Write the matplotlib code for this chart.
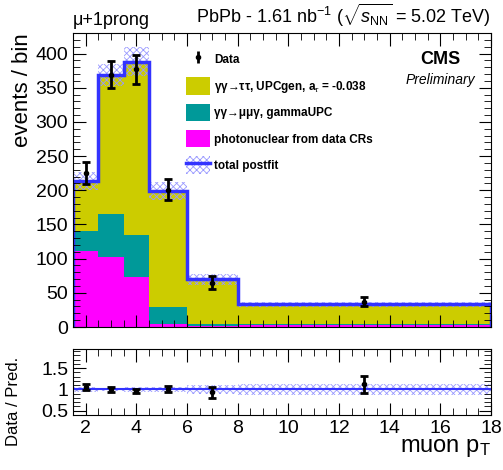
import numpy as np
import matplotlib
matplotlib.use("Agg")
import matplotlib.pyplot as plt
from matplotlib.patches import Patch
from matplotlib.lines import Line2D
from matplotlib.ticker import MultipleLocator, FormatStrFormatter

plt.rcParams['font.family'] = ['Liberation Sans', 'DejaVu Sans']
plt.rcParams['mathtext.fontset'] = 'custom'
plt.rcParams['mathtext.rm'] = 'Liberation Sans'
plt.rcParams['mathtext.it'] = 'Liberation Sans:italic'
plt.rcParams['hatch.linewidth'] = 0.6

# bin edges in muon pT
edges = np.array([1.5, 2.5, 3.5, 4.5, 6.0, 8.0, 18.0])
x_data = [2.0, 3.0, 4.0, 5.25, 7.0, 13.0]

# stacked components (events / bin)
photonuclear = np.array([111, 102, 73, 5, 2, 3])
mumugamma = np.array([29, 63, 62, 24, 3, 1])
tautau = np.array([73, 203, 253, 170, 65, 29])
total_unc = np.array([13, 16, 21, 13, 8, 4])

# data
data = np.array([225, 369, 377, 201, 65, 37])
data_err = np.array([16, 20, 21, 15, 9, 7])

# ratio data / pred
ratio = [1.05, 1.00, 0.97, 1.01, 0.93, 1.12]
ratio_err = [0.07, 0.05, 0.05, 0.07, 0.12, 0.2]

total = photonuclear + mumugamma + tautau

c_tau = '#cccc00'
c_mmg = '#009999'
c_pn = '#ff00ff'
c_tot = '#3333ff'
c_hatch = '#9999ff'

fig = plt.figure(figsize=(5.03, 4.70), dpi=100)
ax = fig.add_axes([73/503, 1 - 327/470, 418/503, 294/470])
axr = fig.add_axes([73/503, 1 - 415/470, 418/503, 66/470])

# 1. main panel stack
ax.stairs(photonuclear, edges, fill=True, color=c_pn, lw=0)
ax.stairs(photonuclear + mumugamma, edges, baseline=photonuclear, fill=True, color=c_mmg, lw=0)
ax.stairs(total, edges, baseline=photonuclear + mumugamma, fill=True, color=c_tau, lw=0)
ax.stairs(total + total_unc, edges, baseline=total - total_unc, fill=True,
          facecolor='none', edgecolor=c_hatch, hatch='xxxxx', lw=0)
ax.stairs(total, edges, color=c_tot, lw=2.5)
ax.errorbar(x_data, data, yerr=data_err, fmt='o', color='black', ms=3,
            elinewidth=2, capsize=3, capthick=2)

ax.set_xlim(1.5, 18)
ax.set_ylim(0, 430)
ax.set_ylabel('events / bin', fontsize=16, loc='top', labelpad=2)
ax.yaxis.set_major_locator(MultipleLocator(50))
ax.yaxis.set_minor_locator(MultipleLocator(10))
ax.xaxis.set_major_locator(MultipleLocator(2))
ax.xaxis.set_minor_locator(MultipleLocator(0.5))
ax.tick_params(axis='both', which='both', direction='in', top=True, right=True)
ax.tick_params(which='major', length=9, labelsize=14)
ax.tick_params(which='minor', length=5)
ax.tick_params(axis='x', labelbottom=False)

ax.text(0.0, 1.015, 'μ+1prong', transform=ax.transAxes, fontsize=13, ha='left', va='bottom')
ax.text(1.0, 1.015, r'PbPb - 1.61 nb$^{-1}$ ($\sqrt{s_{\mathrm{NN}}}$ = 5.02 TeV)',
        transform=ax.transAxes, fontsize=13, ha='right', va='bottom')
ax.text(0.88, 0.91, 'CMS', transform=ax.transAxes, fontsize=13, fontweight='bold', ha='center', va='center')
ax.text(0.88, 0.84, 'Preliminary', transform=ax.transAxes, fontsize=10, style='italic', ha='center', va='center')

h_data = ax.errorbar([], [], yerr=[], fmt='o', color='black', ms=3, elinewidth=2, capsize=3, capthick=2)
h_tau = Patch(facecolor=c_tau, edgecolor='none')
h_mmg = Patch(facecolor=c_mmg, edgecolor='none')
h_pn = Patch(facecolor=c_pn, edgecolor='none')
h_tot = (Patch(facecolor='none', edgecolor=c_hatch, hatch='xxxxx', lw=0), Line2D([], [], color=c_tot, lw=2.5))
leg = ax.legend([h_data, h_tau, h_mmg, h_pn, h_tot],
                ['Data', r'γγ→ττ, UPCgen, a$_{\tau}$ = -0.038',
                 'γγ→μμγ, gammaUPC',
                 'photonuclear from data CRs', 'total postfit'],
                loc='upper left', bbox_to_anchor=(0.245, 0.975), frameon=False,
                prop={'weight': 'bold', 'size': 8.5}, handlelength=2.0, handleheight=1.9,
                labelspacing=0.75, handletextpad=0.35)

# 2. ratio panel
rel = total_unc / total
axr.stairs(1 + rel, edges, baseline=1 - rel, fill=True,
           facecolor='none', edgecolor=c_hatch, hatch='xxxxx', lw=0)
axr.axhline(1, color=c_tot, lw=1.5)
axr.errorbar(x_data, ratio, yerr=ratio_err, fmt='o', color='black', ms=3,
             elinewidth=2, capsize=3, capthick=2)
axr.set_xlim(1.5, 18)
axr.set_ylim(0.4, 1.95)
axr.yaxis.set_major_locator(MultipleLocator(0.5))
axr.yaxis.set_minor_locator(MultipleLocator(0.1))
axr.yaxis.set_major_formatter(FormatStrFormatter('%g'))
axr.xaxis.set_major_locator(MultipleLocator(2))
axr.xaxis.set_minor_locator(MultipleLocator(0.5))
axr.tick_params(axis='both', which='both', direction='in', top=True, right=True)
axr.tick_params(which='major', length=9, labelsize=14)
axr.tick_params(which='minor', length=5)
axr.set_ylabel('Data / Pred.', fontsize=12, labelpad=4)
axr.yaxis.set_label_coords(-0.125, 0.2)
axr.set_xlabel(r'muon p$_{\mathrm{T}}$', fontsize=17, loc='right', labelpad=0)

fig.savefig('out.png', dpi=100)
